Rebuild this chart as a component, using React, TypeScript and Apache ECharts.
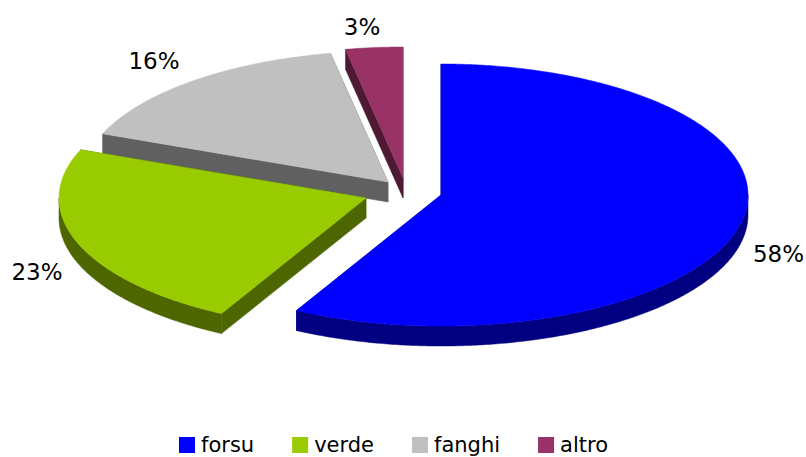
import React, { useEffect, useRef } from "react";
import * as echarts from "echarts";

const categories = ["forsu", "verde", "fanghi", "altro"];
const values = [57.8, 23.2, 16, 3];
const percentLabels = ["58%", "23%", "16%", "3%"];
const topColors = ["#0000FF", "#99CC00", "#C0C0C0", "#993366"];
const wallColors = ["#000080", "#4D6600", "#606060", "#4D1933"];

// layout of the exploded 3D view
const apexX = [441, 366, 388, 403];
const apexY = [195, 198, 182, 178];
const labelX = [778.5, 37, 154, 362];
const labelY = [254, 272, 61, 27];
const stacking = [4, 3, 2, 1];
const RX = 307;
const RY = 131;
const DEPTH = 20;
const FONT = "'DejaVu Sans', sans-serif";

const total = values.reduce((a, b) => a + b, 0);

function pt(cx: number, cy: number, deg: number): [number, number] {
  const r = (deg * Math.PI) / 180;
  return [cx + RX * Math.sin(r), cy - RY * Math.cos(r)];
}

function arc(cx: number, cy: number, from: number, to: number) {
  const pts: [number, number][] = [];
  for (let d = from; d < to; d += 0.5) pts.push(pt(cx, cy, d));
  pts.push(pt(cx, cy, to));
  return pts;
}

function makeRenderItem(index: number) {
  return (_params: any, api: any) => {
    const value = api.value(0);
    const before = values.slice(0, index).reduce((a, b) => a + b, 0);
    const start = (before / total) * 360;
    const end = start + (value / total) * 360;
    const cx = apexX[index];
    const cy = apexY[index];
    const children: any[] = [];
    const wall = { fill: wallColors[index], stroke: wallColors[index], lineWidth: 0.5 };
    for (const edge of [start, end]) {
      const p = pt(cx, cy, edge);
      children.push({
        type: "polygon",
        shape: { points: [[cx, cy], p, [p[0], p[1] + DEPTH], [cx, cy + DEPTH]] },
        style: wall,
      });
    }
    const a = Math.max(start, 90);
    const b = Math.min(end, 270);
    if (b > a) {
      const upper = arc(cx, cy, a, b);
      const lower = upper.map(([x, y]) => [x, y + DEPTH]).reverse();
      children.push({ type: "polygon", shape: { points: [...upper, ...lower] }, style: wall });
    }
    children.push({
      type: "polygon",
      shape: { points: [[cx, cy], ...arc(cx, cy, start, end)] },
      style: { fill: topColors[index], stroke: topColors[index], lineWidth: 0.5 },
    });
    children.push({
      type: "text",
      x: labelX[index],
      y: labelY[index],
      style: {
        text: percentLabels[index],
        fill: "#000",
        font: `23px ${FONT}`,
        align: "center",
        verticalAlign: "middle",
      },
    });
    return { type: "group", children };
  };
}

export default function App() {
  const ref = useRef<HTMLDivElement>(null);
  useEffect(() => {
    const chart = echarts.init(ref.current!, null, { renderer: "svg" });
    chart.setOption({
      animation: false,
      backgroundColor: "#fff",
      legend: {
        data: categories,
        left: 179,
        top: 433,
        icon: "rect",
        itemWidth: 16,
        itemHeight: 16,
        itemGap: 38,
        padding: 0,
        selectedMode: false,
        textStyle: { fontFamily: FONT, fontSize: 21, lineHeight: 24, color: "#000", padding: [0, 0, 0, 1] },
      },
      series: categories.map((name, i) => ({
        type: "custom",
        name,
        coordinateSystem: "none",
        silent: true,
        z: stacking[i],
        itemStyle: { color: topColors[i] },
        renderItem: makeRenderItem(i),
        data: [[values[i]]],
      })),
    });
    return () => chart.dispose();
  }, []);
  return <div ref={ref} style={{ position: "fixed", left: 0, top: 0, width: 806, height: 457 }} />;
}
